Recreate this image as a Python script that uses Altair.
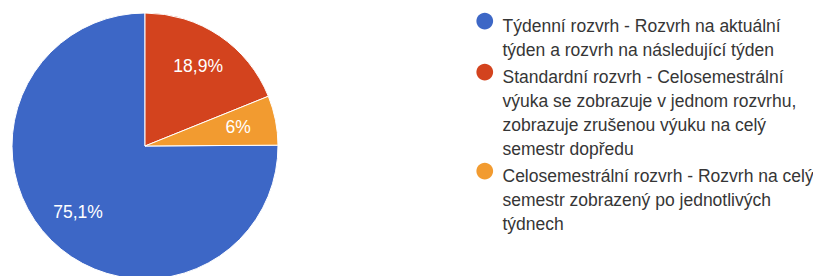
import altair as alt
import pandas as pd

categories = [
    "Týdenní rozvrh - Rozvrh na aktuální|týden a rozvrh na následující týden",
    "Standardní rozvrh - Celosemestrální|výuka se zobrazuje v jednom rozvrhu,|zobrazuje zrušenou výuku na celý|semestr dopředu",
    "Celosemestrální rozvrh - Rozvrh na celý|semestr zobrazený po jednotlivých|týdnech",
]
values = [75.1, 18.9, 6.0]
labels = ["75,1%", "18,9%", "6%"]
pie_order = [3, 1, 2]
colors = ["#3d67c6", "#d3431e", "#f29b30"]

df = pd.DataFrame({"cat": categories, "value": values, "label": labels, "ord": pie_order})

CX, CY, R = 137, 138, 133

# circle glyph, nudged down to sit on the first label line
CIRCLE = "M -1 0.4 A 1 1 0 1 0 1 0.4 A 1 1 0 1 0 -1 0.4 Z"

base = alt.Chart(df).encode(
    theta=alt.Theta("value:Q", stack=True),
    order=alt.Order("ord:Q"),
)

pie = base.mark_arc(x=CX, y=CY, outerRadius=R, stroke="white", strokeWidth=1).encode(
    color=alt.Color(
        "cat:N",
        scale=alt.Scale(domain=categories, range=colors),
        legend=alt.Legend(
            title=None,
            orient="none",
            legendX=468,
            legendY=1,
            symbolType=CIRCLE,
            symbolSize=280,
            symbolStrokeWidth=0,
            labelExpr="split(datum.label, '|')",
            labelFont="Liberation Sans",
            labelFontSize=17.5,
            labelColor="#363636",
            labelLimit=500,
            labelOffset=9,
            rowPadding=-2,
            labelBaseline="top",
        ),
    )
)

text = base.mark_text(
    x=CX, y=CY, radius=95, font="Liberation Sans", fontSize=17.5, color="white"
).encode(text="label:N")

chart = (
    alt.layer(pie, text)
    .properties(width=805, height=268, padding=0, autosize=alt.AutoSizeParams(type="none"))
    .configure_view(stroke=None)
    .configure(style={"guide-label": {"lineHeight": 24}})
)

chart.save("out.html", embed_options={"renderer": "svg", "actions": False})
